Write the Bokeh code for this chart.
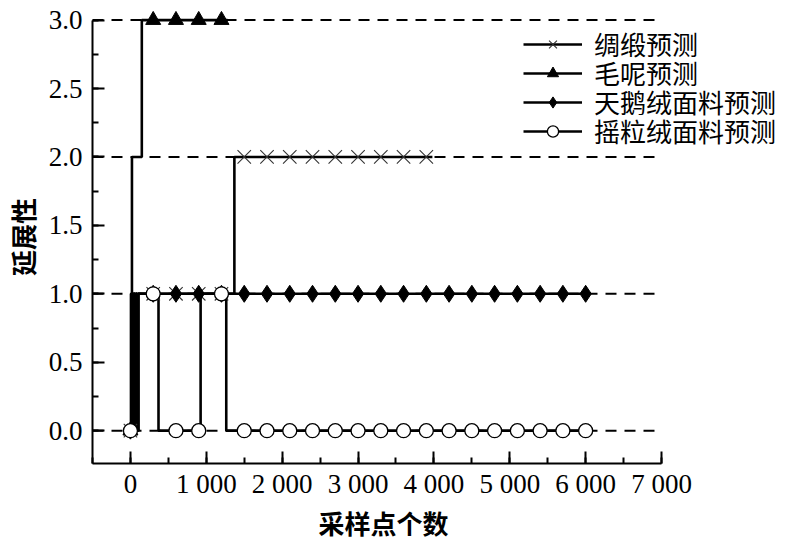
import numpy as np
from bokeh.plotting import figure
from bokeh.models import (SingleIntervalTicker, NumeralTickFormatter,
                          Legend, LegendItem, Range1d, Title)
from bokeh.embed import file_html
from bokeh.resources import INLINE

# ---- data (sample index where the predicted class changes, and the class) ----
silk_x = [0, 15, 30, 45, 60, 75, 90, 105, 1370, 3980]
silk_y = [0, 1, 0, 1, 0, 1, 0, 1, 2, 2]
wool_x = [0, 10, 20, 150, 1280]
wool_y = [0, 1, 2, 3, 3]
velvet_x = [0, 12, 28, 42, 58, 72, 88, 104, 6000]
velvet_y = [0, 1, 0, 1, 0, 1, 0, 1, 1]
fleece_x = [0, 8, 22, 38, 52, 68, 82, 98, 370, 925, 1263, 6000]
fleece_y = [0, 1, 0, 1, 0, 1, 0, 1, 0, 1, 0, 0]
marker_every = 300

series_names = ["绸缎预测", "毛呢预测", "天鹅绒面料预测", "摇粒绒面料预测"]
x_tick_values = [0, 1000, 2000, 3000, 4000, 5000, 6000, 7000]
x_tick_labels = ["0", "1 000", "2 000", "3 000", "4 000", "5 000", "6 000", "7 000"]
grid_levels = [0, 1, 2, 3]
x_title = "采样点个数"
y_title = "延展性"

# styling constants
X_AXIS_BOUNDS = (-500, 7000)
Y_AXIS_BOUNDS = (-0.24, 3.0)
GRID_END = 6950
LEGEND_X = 431          # px from frame left
LEGEND_FIRST_Y = 401    # px from frame bottom (first row box bottom)
LEGEND_ROW_STEP = 29    # px between rows


def marker_points(xs, ys):
    mx = np.arange(0, xs[-1] + 1, marker_every)
    idx = np.searchsorted(np.array(xs), mx, side="right") - 1
    return mx, np.array(ys)[idx]


p = figure(frame_width=698, frame_height=453,
           x_range=Range1d(-500, 8700), y_range=Range1d(-0.24, 3.07),
           output_backend="svg", toolbar_location=None,
           min_border_left=92, min_border_top=10, min_border_right=0,
           min_border_bottom=0)
p.outline_line_color = None
p.background_fill_color = "white"
p.xgrid.visible = False
p.ygrid.visible = False

# dashed reference lines at the class levels
p.segment(x0=[X_AXIS_BOUNDS[0]] * len(grid_levels), x1=[GRID_END] * len(grid_levels),
          y0=grid_levels, y1=grid_levels,
          line_color="black", line_width=2, line_dash="11 8")

# axes
for ax in (p.xaxis[0], p.yaxis[0]):
    ax.axis_line_width = 2
    ax.major_tick_line_width = 2
    ax.minor_tick_line_width = 2
    ax.major_tick_in = 12
    ax.major_tick_out = 0
    ax.minor_tick_in = 6
    ax.minor_tick_out = 0
    ax.major_label_text_font = "Liberation Serif"
    ax.major_label_text_font_size = "27px"
    ax.major_label_text_color = "black"
    ax.axis_label_text_font = "Noto Sans CJK SC"
    ax.axis_label_text_font_size = "26px"
    ax.axis_label_text_font_style = "bold"
    ax.axis_label_text_color = "black"

p.xaxis.ticker = SingleIntervalTicker(interval=1000, num_minor_ticks=2)
p.xaxis.major_label_overrides = dict(zip(x_tick_values, x_tick_labels))
p.xaxis.bounds = X_AXIS_BOUNDS
p.xaxis.major_label_standoff = 5

p.yaxis.ticker = SingleIntervalTicker(interval=0.5, num_minor_ticks=2)
p.yaxis.formatter = NumeralTickFormatter(format="0.0")
p.yaxis.bounds = Y_AXIS_BOUNDS
p.yaxis.major_label_standoff = 10
p.yaxis.axis_label = y_title
p.yaxis.axis_label_standoff = 5

# x title, centred under the bounded axis rather than the whole frame
p.add_layout(Title(text=x_title, align="left", offset=226, standoff=0,
                   text_font="Noto Sans CJK SC", text_font_size="26px",
                   text_font_style="bold", text_color="black"), "below")

all_series = [(silk_x, silk_y), (wool_x, wool_y), (velvet_x, velvet_y), (fleece_x, fleece_y)]

lines = []
for xs, ys in all_series:
    lines.append(p.step(xs, ys, mode="after", line_color="black", line_width=2.6))

mk = []
sx, sy = marker_points(silk_x, silk_y)
mk.append(p.scatter(sx, sy, marker="x", size=19, line_color="#333333", line_width=1.1))
wx, wy = marker_points(wool_x, wool_y)
mk.append(p.scatter(wx, wy, marker="triangle", size=15, fill_color="black", line_color="black"))
vx, vy = marker_points(velvet_x, velvet_y)
mk.append(p.scatter(vx, vy, marker="diamond", size=17, fill_color="black", line_color="black"))
fx, fy = marker_points(fleece_x, fleece_y)
mk.append(p.scatter(fx, fy, marker="circle", size=14, fill_color="white", line_color="black",
                    line_width=1.3))

# one single-row legend per series, so that the rows can sit closer than the
# CJK font's line box would otherwise allow
for i, (n, l, m) in enumerate(zip(series_names, lines, mk)):
    lg = Legend(items=[LegendItem(label=n, renderers=[l, m])],
                location=(LEGEND_X, LEGEND_FIRST_Y - i * LEGEND_ROW_STEP),
                orientation="vertical",
                glyph_width=59, glyph_height=28, label_height=28, spacing=0,
                label_standoff=12, padding=0, margin=0,
                border_line_color=None, background_fill_alpha=0.0,
                label_text_font="Noto Sans CJK SC", label_text_font_size="26px",
                label_text_color="black")
    p.add_layout(lg)

open("out.html", "w").write(file_html(p, INLINE))
